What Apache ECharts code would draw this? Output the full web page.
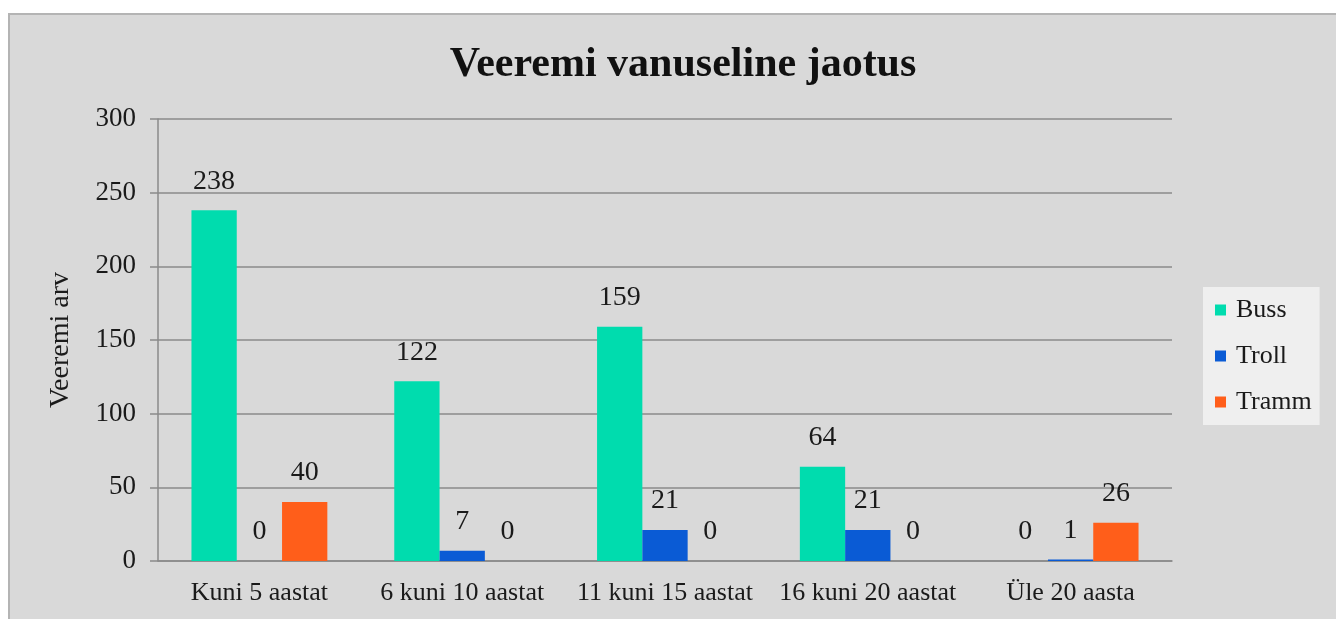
<!DOCTYPE html>
<html>
<head>
<meta charset="utf-8">
<script src="https://cdn.jsdelivr.net/npm/echarts@6/dist/echarts.min.js"></script>
<style>
  html, body { margin: 0; padding: 0; background: #fff; overflow: hidden; }
  #chart {
    position: absolute; left: 8px; top: 13px;
    width: 1340px; height: 620px;
    background: #d9d9d9;
    border: 2px solid #b4b4b4;
  }
</style>
</head>
<body>
<div id="chart"></div>
<script>
// vanuserühmad
var categories = ['Kuni 5 aastat', '6 kuni 10 aastat', '11 kuni 15 aastat', '16 kuni 20 aastat', 'Üle 20 aasta'];
var buss = [238, 122, 159, 64, 0];
var troll = [0, 7, 21, 21, 1];
var tramm = [40, 0, 0, 0, 26];
var yTicks = [0, 50, 100, 150, 200, 250, 300];

var serif = '"Liberation Serif", "DejaVu Serif", serif';

function makeSeries(name, data, color) {
    return {
        name: name,
        type: 'bar',
        data: data,
        barGap: '0%',
        barCategoryGap: '33%',
        itemStyle: { color: color },
        label: {
            show: true,
            position: 'top',
            distance: 15,
            fontFamily: serif,
            fontSize: 28,
            color: '#1a1a1a'
        }
    };
}

var chart = echarts.init(document.getElementById('chart'));
var option = {
    animation: false,
    title: {
        text: 'Veeremi vanuseline jaotus',
        left: 668,
        textAlign: 'center',
        top: 24,
        textStyle: { fontFamily: serif, fontSize: 42, fontWeight: 'bold', color: '#111' }
    },
    legend: {
        orient: 'vertical',
        left: 1193,
        top: 272,
        itemWidth: 11,
        itemHeight: 11,
        itemGap: 20,
        padding: [10, 8, 10, 12],
        backgroundColor: '#efefef',
        icon: 'rect',
        textStyle: { fontFamily: serif, fontSize: 26, color: '#1a1a1a', padding: [0, 0, 0, 5] },
        data: ['Buss', 'Troll', 'Tramm']
    },
    grid: { left: 148, top: 104, width: 1014, height: 442 },
    xAxis: {
        type: 'category',
        data: categories,
        axisLine: { lineStyle: { color: '#8a8a8a', width: 1.5 } },
        axisTick: { show: false },
        axisLabel: { interval: 0, fontFamily: serif, fontSize: 26, color: '#1a1a1a', margin: 19 }
    },
    yAxis: {
        type: 'value',
        min: yTicks[0],
        max: yTicks[yTicks.length - 1],
        interval: 50,
        name: 'Veeremi arv',
        nameLocation: 'middle',
        nameGap: 83,
        nameTextStyle: { fontFamily: serif, fontSize: 28, color: '#1a1a1a' },
        axisLine: { show: true, lineStyle: { color: '#8a8a8a', width: 1.5 } },
        axisTick: { show: true, length: 8, lineStyle: { color: '#8a8a8a', width: 1.5 } },
        axisLabel: { fontFamily: serif, fontSize: 27, color: '#1a1a1a', margin: 22 },
        splitLine: { lineStyle: { color: '#8a8a8a', width: 1.5 } }
    },
    series: [
        makeSeries('Buss', buss, '#00dcae'),
        makeSeries('Troll', troll, '#0a5bd5'),
        makeSeries('Tramm', tramm, '#ff5e1a')
    ]
};
chart.setOption(option);
</script>
</body>
</html>
